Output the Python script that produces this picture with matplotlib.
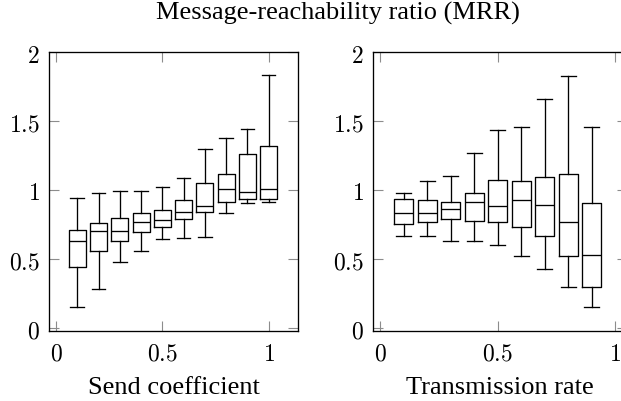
import matplotlib
matplotlib.use("Agg")
import matplotlib.pyplot as plt

# ---- data ----
send_pos = [0.1, 0.2, 0.3, 0.4, 0.5, 0.6, 0.7, 0.8, 0.9, 1.0]
send_whislo = [0.150, 0.283, 0.477, 0.557, 0.644, 0.654, 0.656, 0.833, 0.903, 0.915]
send_q1     = [0.438, 0.554, 0.630, 0.695, 0.734, 0.789, 0.838, 0.913, 0.935, 0.937]
send_med    = [0.627, 0.705, 0.705, 0.765, 0.780, 0.838, 0.881, 1.005, 0.983, 1.005]
send_q3     = [0.712, 0.758, 0.794, 0.830, 0.852, 0.925, 1.053, 1.114, 1.259, 1.317]
send_whishi = [0.939, 0.978, 0.993, 0.993, 1.022, 1.087, 1.300, 1.380, 1.441, 1.833]

trans_pos = [0.1, 0.2, 0.3, 0.4, 0.5, 0.6, 0.7, 0.8, 0.9]
trans_whislo = [0.668, 0.663, 0.627, 0.627, 0.598, 0.523, 0.429, 0.295, 0.150]
trans_q1     = [0.751, 0.770, 0.787, 0.777, 0.765, 0.731, 0.668, 0.523, 0.293]
trans_med    = [0.835, 0.833, 0.860, 0.913, 0.884, 0.927, 0.889, 0.770, 0.528]
trans_q3     = [0.937, 0.925, 0.915, 0.976, 1.075, 1.063, 1.097, 1.114, 0.908]
trans_whishi = [0.978, 1.065, 1.104, 1.266, 1.436, 1.460, 1.661, 1.831, 1.455]

xticks = [0, 0.5, 1]
xticklabels = ["$0$", "$0.5$", "$1$"]
yticks = [0, 0.5, 1, 1.5, 2]
yticklabels = ["$0$", "$0.5$", "$1$", "$1.5$", "$2$"]

title = "Message-reachability ratio (MRR)"
xlabel_left = "Send coefficient"
xlabel_right = "Transmission rate"

plt.rcParams["mathtext.fontset"] = "cm"
serif = "Liberation Serif"

W, H = 621, 402
fig = plt.figure(figsize=(W / 100, H / 100), dpi=100)

top_px, bot_px = 53.3, 332.0
ax_h = bot_px - top_px
axL = fig.add_axes([49.3 / W, 1 - bot_px / H, (297.7 - 49.3) / W, ax_h / H])
axR = fig.add_axes([373.3 / W, 1 - bot_px / H, (627.0 - 373.3) / W, ax_h / H])


def make_stats(lo, q1, med, q3, hi):
    return [dict(whislo=a, q1=b, med=c, q3=d, whishi=e, fliers=[])
            for a, b, c, d, e in zip(lo, q1, med, q3, hi)]


lw = 0.95
props = dict(
    widths=0.08, capwidths=0.064, showfliers=False, patch_artist=False,
    boxprops=dict(color="black", linewidth=lw),
    medianprops=dict(color="black", linewidth=lw),
    whiskerprops=dict(color="black", linewidth=lw),
    capprops=dict(color="black", linewidth=lw),
)

axL.bxp(make_stats(send_whislo, send_q1, send_med, send_q3, send_whishi),
        positions=send_pos, **props)
axR.bxp(make_stats(trans_whislo, trans_q1, trans_med, trans_q3, trans_whishi),
        positions=trans_pos, **props)

axL.set_xlim(-0.0315, 1.1364)
axR.set_xlim(-0.0285, 1.049)

for ax, xl in ((axL, xlabel_left), (axR, xlabel_right)):
    ax.set_ylim(-0.024, 2.0)
    ax.set_xticks(xticks)
    ax.set_xticklabels(xticklabels, fontsize=17)
    ax.set_yticks(yticks)
    ax.set_yticklabels(yticklabels, fontsize=17)
    ax.tick_params(direction="in", length=7.2, width=0.8, color="#8c8c8c",
                   top=True, right=True, pad=7)
    ax.tick_params(axis="x", pad=7)
    for s in ax.spines.values():
        s.set_linewidth(0.95)
        s.set_color("black")
    ax.set_xlabel(xl, fontsize=19, family=serif, va="baseline")
    ax.xaxis.set_label_coords(0.5, (bot_px - 394.0) / ax_h)

fig.text(338 / W, 1 - 20 / H, title, fontsize=19, family=serif,
         ha="center", va="baseline")

fig.savefig("out.png", dpi=100)
